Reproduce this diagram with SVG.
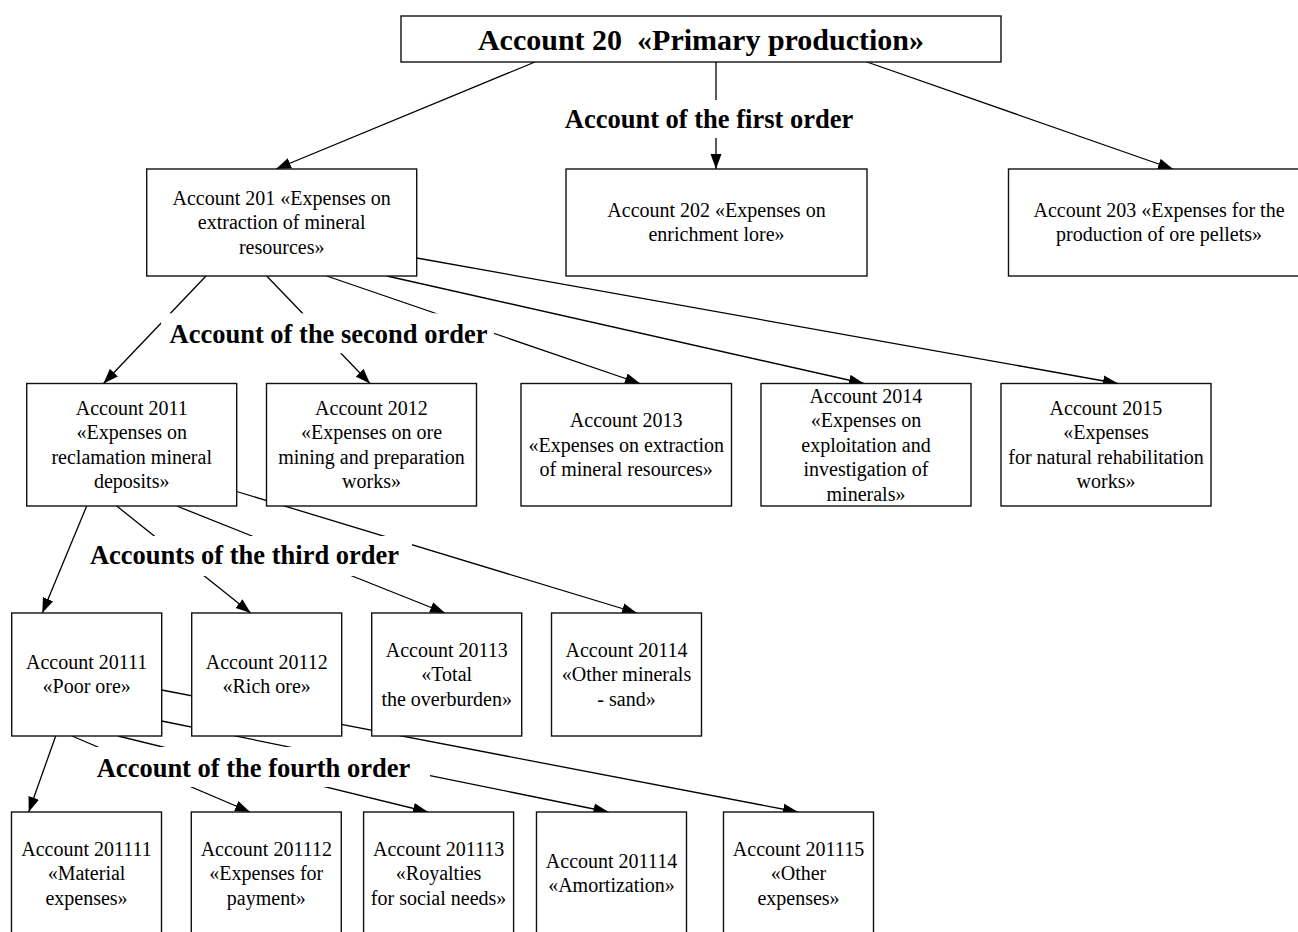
<svg xmlns="http://www.w3.org/2000/svg" width="1298" height="932" viewBox="0 0 1298 932">
<style>
  .box{fill:#fff;stroke:#111;stroke-width:1.4}
  .t{font-family:"Liberation Serif","Times New Roman",serif;font-size:20px;fill:#000;text-anchor:middle}
  .title{font-family:"Liberation Serif","Times New Roman",serif;font-size:30px;font-weight:bold;fill:#000;text-anchor:middle}
  .lbl{font-family:"Liberation Serif","Times New Roman",serif;font-size:26.5px;font-weight:bold;fill:#000;text-anchor:middle}
  .lblbg{fill:#fff;stroke:none}
  .c{stroke:#000;stroke-width:1.3;fill:none;marker-end:url(#arr)}
</style>
<defs>
  <marker id="arr" markerUnits="userSpaceOnUse" markerWidth="16" markerHeight="12" refX="15" refY="6" orient="auto">
    <path d="M0,0.5 L15,6 L0,11.5 z" fill="#000"/>
  </marker>
</defs>
<rect width="1298" height="932" fill="#fff"/>
<g id="connectors">
  <line class="c" x1="535" y1="62" x2="276" y2="169"/>
  <line class="c" x1="716" y1="62" x2="716" y2="169"/>
  <line class="c" x1="867" y1="62" x2="1173" y2="169"/>
  <line class="c" x1="206" y1="276" x2="103.5" y2="383.5"/>
  <line class="c" x1="266.7" y1="276" x2="370" y2="383.5"/>
  <line class="c" x1="326.7" y1="276" x2="640" y2="383.5"/>
  <line class="c" x1="387" y1="276" x2="864" y2="383.5"/>
  <line class="c" x1="416.7" y1="258" x2="1118" y2="383.5"/>
  <line class="c" x1="86.7" y1="506" x2="42.3" y2="613"/>
  <line class="c" x1="116.7" y1="506" x2="250.7" y2="613"/>
  <line class="c" x1="176.7" y1="506" x2="445" y2="613"/>
  <line class="c" x1="236.7" y1="491.5" x2="637" y2="613"/>
  <line class="c" x1="55.7" y1="736" x2="28.7" y2="812"/>
  <line class="c" x1="72" y1="736" x2="250" y2="812"/>
  <line class="c" x1="118" y1="736" x2="428" y2="812"/>
  <line class="c" x1="161.7" y1="721" x2="608.5" y2="812"/>
  <line class="c" x1="161.7" y1="690" x2="798" y2="812"/>
</g>
<g id="n20">
  <rect class="box" x="401" y="16" width="600" height="46"/>
  <text class="title" x="701" y="49.5" xml:space="preserve">Account 20  «Primary production»</text>
</g>
<g id="n201">
  <rect class="box" x="146.7" y="169" width="270" height="107"/>
  <text class="t" x="281.7" y="204.5">Account 201 «Expenses on</text>
  <text class="t" x="281.7" y="229">extraction of mineral</text>
  <text class="t" x="281.7" y="253.5">resources»</text>
</g>
<g id="n202">
  <rect class="box" x="566" y="169" width="301" height="107"/>
  <text class="t" x="716.5" y="216.75">Account 202 «Expenses on</text>
  <text class="t" x="716.5" y="241.25">enrichment lore»</text>
</g>
<g id="n203">
  <rect class="box" x="1008.5" y="169" width="301" height="107"/>
  <text class="t" x="1159" y="216.75">Account 203 «Expenses for the</text>
  <text class="t" x="1159" y="241.25">production of ore pellets»</text>
</g>
<g id="n2011">
  <rect class="box" x="26.7" y="383.5" width="210" height="122.5"/>
  <text class="t" x="131.7" y="414.75">Account 2011</text>
  <text class="t" x="131.7" y="439.25">«Expenses on</text>
  <text class="t" x="131.7" y="463.75">reclamation mineral</text>
  <text class="t" x="131.7" y="488.25">deposits»</text>
</g>
<g id="n2012">
  <rect class="box" x="266.5" y="383.5" width="210" height="122.5"/>
  <text class="t" x="371.5" y="414.75">Account 2012</text>
  <text class="t" x="371.5" y="439.25">«Expenses on ore</text>
  <text class="t" x="371.5" y="463.75">mining and preparation</text>
  <text class="t" x="371.5" y="488.25">works»</text>
</g>
<g id="n2013">
  <rect class="box" x="521" y="383.5" width="210.5" height="122.5"/>
  <text class="t" x="626.2" y="427">Account 2013</text>
  <text class="t" x="626.2" y="451.5">«Expenses on extraction</text>
  <text class="t" x="626.2" y="476">of mineral resources»</text>
</g>
<g id="n2014">
  <rect class="box" x="761" y="383.5" width="210" height="122.5"/>
  <text class="t" x="866" y="402.5">Account 2014</text>
  <text class="t" x="866" y="427">«Expenses on</text>
  <text class="t" x="866" y="451.5">exploitation and</text>
  <text class="t" x="866" y="476">investigation of</text>
  <text class="t" x="866" y="500.5">minerals»</text>
</g>
<g id="n2015">
  <rect class="box" x="1001" y="383.5" width="210" height="122.5"/>
  <text class="t" x="1106" y="414.75">Account 2015</text>
  <text class="t" x="1106" y="439.25">«Expenses</text>
  <text class="t" x="1106" y="463.75">for natural rehabilitation</text>
  <text class="t" x="1106" y="488.25">works»</text>
</g>
<g id="n20111">
  <rect class="box" x="11.7" y="613" width="150" height="123"/>
  <text class="t" x="86.7" y="668.75">Account 20111</text>
  <text class="t" x="86.7" y="693.25">«Poor ore»</text>
</g>
<g id="n20112">
  <rect class="box" x="191.7" y="613" width="150" height="123"/>
  <text class="t" x="266.7" y="668.75">Account 20112</text>
  <text class="t" x="266.7" y="693.25">«Rich ore»</text>
</g>
<g id="n20113">
  <rect class="box" x="371.7" y="613" width="150" height="123"/>
  <text class="t" x="446.7" y="656.5">Account 20113</text>
  <text class="t" x="446.7" y="681">«Total</text>
  <text class="t" x="446.7" y="705.5">the overburden»</text>
</g>
<g id="n20114">
  <rect class="box" x="551.5" y="613" width="150" height="123"/>
  <text class="t" x="626.5" y="656.5">Account 20114</text>
  <text class="t" x="626.5" y="681">«Other minerals</text>
  <text class="t" x="626.5" y="705.5">- sand»</text>
</g>
<g id="n201111">
  <rect class="box" x="11.5" y="812" width="150" height="124"/>
  <text class="t" x="86.5" y="855.5">Account 201111</text>
  <text class="t" x="86.5" y="880">«Material</text>
  <text class="t" x="86.5" y="904.5">expenses»</text>
</g>
<g id="n201112">
  <rect class="box" x="191.3" y="812" width="150" height="124"/>
  <text class="t" x="266.3" y="855.5">Account 201112</text>
  <text class="t" x="266.3" y="880">«Expenses for</text>
  <text class="t" x="266.3" y="904.5">payment»</text>
</g>
<g id="n201113">
  <rect class="box" x="363.6" y="812" width="150" height="124"/>
  <text class="t" x="438.6" y="855.5">Account 201113</text>
  <text class="t" x="438.6" y="880">«Royalties</text>
  <text class="t" x="438.6" y="904.5">for social needs»</text>
</g>
<g id="n201114">
  <rect class="box" x="536.5" y="812" width="150" height="124"/>
  <text class="t" x="611.5" y="867.75">Account 201114</text>
  <text class="t" x="611.5" y="892.25">«Amortization»</text>
</g>
<g id="n201115">
  <rect class="box" x="723.5" y="812" width="150" height="124"/>
  <text class="t" x="798.5" y="855.5">Account 201115</text>
  <text class="t" x="798.5" y="880">«Other</text>
  <text class="t" x="798.5" y="904.5">expenses»</text>
</g>
<g id="labels">
  <g id="lbl1">
    <rect class="lblbg" x="542" y="100" width="333" height="38"/>
    <text class="lbl" x="709" y="128.3">Account of the first order</text>
  </g>
  <g id="lbl2">
    <rect class="lblbg" x="161" y="313.3" width="333" height="40"/>
    <text class="lbl" x="328.5" y="342.7">Account of the second order</text>
  </g>
  <g id="lbl3">
    <rect class="lblbg" x="77" y="536" width="335" height="40"/>
    <text class="lbl" x="244.5" y="564.3">Accounts of the third order</text>
  </g>
  <g id="lbl4">
    <rect class="lblbg" x="77" y="747" width="353" height="40"/>
    <text class="lbl" x="253.5" y="776.5">Account of the fourth order</text>
  </g>
</g>
</svg>
